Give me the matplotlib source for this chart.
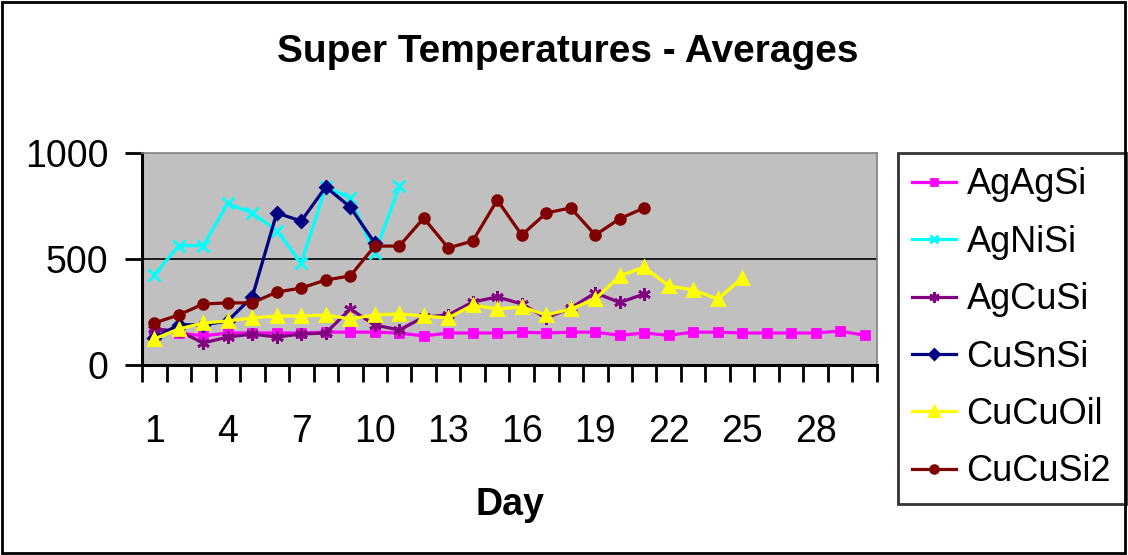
import numpy as np
import matplotlib
matplotlib.use("Agg")
import matplotlib.pyplot as plt
from matplotlib.patches import Rectangle

plt.rcParams["font.family"] = ["Liberation Sans", "DejaVu Sans"]

# ---- Data ----
days = list(range(1, 31))

ag_ag_si = [165, 151, 137, 151, 151, 151, 151, 155, 155, 155,
            151, 137, 151, 151, 151, 155, 151, 155, 155, 140,
            151, 140, 155, 155, 151, 151, 151, 151, 160, 140]
ag_ni_si = [425, 563, 563, 762, 717, 634, 481, 840, 788, 526, 842]
ag_cu_si = [170, 160, 104, 132, 146, 132, 146, 151, 264, 189,
            165, 226, 236, 297, 321, 288, 222, 269, 340, 295, 335]
cu_sn_si = [127, 190, 189, 208, 321, 717, 679, 840, 745, 575]
cu_cu_oil = [123, 170, 198, 208, 222, 231, 231, 236, 217, 236,
             241, 231, 222, 283, 264, 274, 236, 264, 311, 420,
             462, 373, 354, 311, 410]
cu_cu_si2 = [198, 236, 288, 293, 293, 344, 363, 401, 420, 561,
             561, 693, 552, 585, 778, 613, 717, 741, 613, 690, 741]

series = [
    ("AgAgSi", ag_ag_si, "#FF00FF", "s", 6),
    ("AgNiSi", ag_ni_si, "#00FFFF", "x", 8),
    ("AgCuSi", ag_cu_si, "#800080", (6, 2, 0), 9),
    ("CuSnSi", cu_sn_si, "#000080", "D", 6),
    ("CuCuOil", cu_cu_oil, "#FFFF00", "^", 9),
    ("CuCuSi2", cu_cu_si2, "#800000", "o", 7),
]

fig = plt.figure(figsize=(11.28, 5.55), dpi=100)
ax = fig.add_axes([142 / 1128, 1 - 365 / 555, 735 / 1128, 212 / 555])
ax.set_facecolor("#C0C0C0")

for name, vals, col, mk, ms in series:
    ax.plot(days[:len(vals)], vals, color=col, lw=2.3, marker=mk, ms=ms,
            mec=col, mfc=col, mew=2, label=name, zorder=3)

# ---- Axes ----
ax.set_xlim(0.5, 30.5)
ax.set_ylim(0, 1000)
ax.set_yticks([0, 500, 1000])
ax.set_xticks(range(1, 31, 3))
ax.set_xticks(np.arange(0.5, 31, 1), minor=True)
ax.tick_params(axis="x", which="major", length=0, pad=35, labelsize=27)
ax.tick_params(axis="x", which="minor", length=12, width=2, direction="out")
ax.tick_params(axis="y", length=12, width=2, direction="out", pad=12, labelsize=27)
ax.axhline(500, color="black", lw=1.2, zorder=1)

for s in ["left", "bottom"]:
    ax.spines[s].set_linewidth(2.2)
for s in ["top", "right"]:
    ax.spines[s].set_color("#808080")
    ax.spines[s].set_linewidth(1.2)

ax.set_xlabel("Day", fontsize=27, fontweight="bold", labelpad=27)
fig.text(0.503, 1 - 52 / 555, "Super Temperatures - Averages", ha="center",
         va="center", fontsize=28, fontweight="bold")

leg = ax.legend(loc="upper left", bbox_to_anchor=(898 / 1128, 1 - 153 / 555),
                bbox_transform=fig.transFigure, borderaxespad=0, fontsize=26,
                frameon=True, fancybox=False, edgecolor="black",
                handlelength=1.2, handletextpad=0.3, labelspacing=0.62,
                borderpad=0.4, markerscale=0.8)
leg.get_frame().set_linewidth(2)

# figure border
fig.patches.append(Rectangle((0.002, 0.003), 0.995, 0.994, transform=fig.transFigure,
                             fill=False, edgecolor="black", lw=2))

fig.savefig("out.png", dpi=100)
